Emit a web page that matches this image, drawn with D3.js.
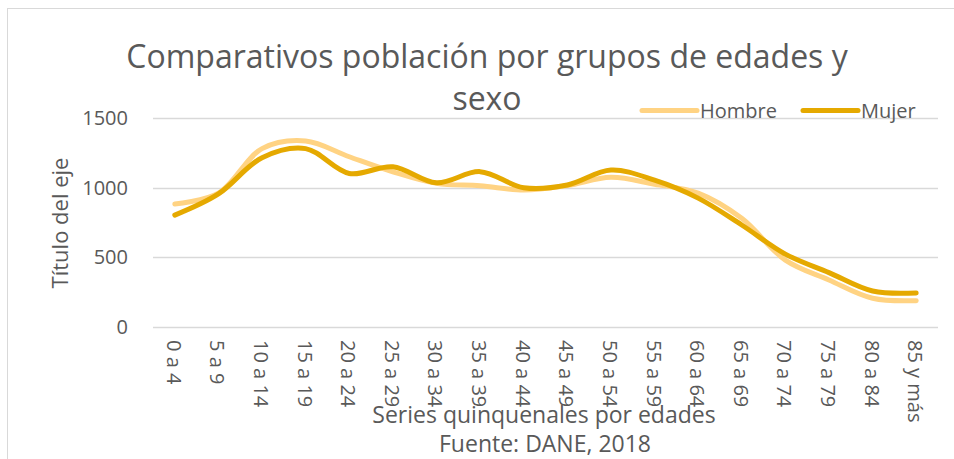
<!DOCTYPE html>
<html>
<head>
<meta charset="utf-8">
<script src="https://cdn.jsdelivr.net/npm/d3@7"></script>
<style>
  body { margin: 0; background: #fff; }
  text { font-family: "Open Sans", "Noto Sans", sans-serif; fill: #595959; }
</style>
</head>
<body>
<div id="chart"></div>
<script>
// Age groups (categories)
var ageGroups = ["0 a 4", "5 a 9", "10 a 14", "15 a 19", "20 a 24", "25 a 29",
  "30 a 34", "35 a 39", "40 a 44", "45 a 49", "50 a 54", "55 a 59",
  "60 a 64", "65 a 69", "70 a 74", "75 a 79", "80 a 84", "85 y más"];

// Values
var hombre = [882, 960, 1280, 1335, 1222, 1114, 1031, 1014, 983, 1015,
  1074, 1025, 961, 780, 480, 337, 206, 189];
var mujer = [803, 955, 1215, 1280, 1102, 1150, 1035, 1115, 1000, 1019,
  1126, 1054, 925, 732, 523, 390, 258, 244];

var yTicks = [0, 500, 1000, 1500];

var series = [
  { name: "Hombre", values: hombre, color: "#FFD383" },
  { name: "Mujer", values: mujer, color: "#E5A900" }
];

var svg = d3.select("#chart").append("svg")
  .attr("width", 954)
  .attr("height", 459);

// chart frame
svg.append("rect")
  .attr("x", 7.5).attr("y", 8.5)
  .attr("width", 960).attr("height", 460)
  .attr("fill", "none")
  .attr("stroke", "#d9d9d9");

var margin = { top: 118, left: 153, right: 16, bottom: 132 };
var width = 954 - margin.left - margin.right;
var height = 459 - margin.top - margin.bottom;

var g = svg.append("g")
  .attr("transform", "translate(" + margin.left + "," + margin.top + ")");

var x = d3.scaleBand().domain(ageGroups).range([0, width]);
var y = d3.scaleLinear().domain([0, 1500]).range([height, 0]);

// gridlines
g.append("g")
  .selectAll("line")
  .data(yTicks)
  .enter()
  .append("line")
  .attr("x1", 0)
  .attr("x2", width)
  .attr("y1", function (d) { return Math.round(y(d)) + 0.5; })
  .attr("y2", function (d) { return Math.round(y(d)) + 0.5; })
  .attr("stroke", "#d9d9d9")
  .attr("stroke-width", 1.3);

// y axis labels
var yAxis = g.append("g")
  .call(d3.axisLeft(y).tickValues(yTicks).tickFormat(d3.format("d"))
    .tickSize(0).tickPadding(25));
yAxis.select(".domain").remove();
yAxis.selectAll("text")
  .style("font-size", "20px")
  .style("font-family", "\"Open Sans\", sans-serif")
  .attr("fill", "#595959");

// x axis labels, rotated
var xAxis = g.append("g")
  .attr("transform", "translate(0," + height + ")")
  .call(d3.axisBottom(x).tickSize(0));
xAxis.select(".domain").remove();
xAxis.selectAll("text")
  .style("font-size", "20px")
  .style("font-family", "\"Open Sans\", sans-serif")
  .attr("fill", "#595959")
  .attr("text-anchor", "start")
  .attr("transform", "rotate(90)")
  .attr("x", 13)
  .attr("y", 0)
  .attr("dy", "0.4em");

// lines
var line = d3.line()
  .x(function (d, i) { return x(ageGroups[i]) + x.bandwidth() / 2; })
  .y(function (d) { return y(d); })
  .curve(d3.curveCatmullRom.alpha(0.5));

series.forEach(function (s) {
  g.append("path")
    .datum(s.values)
    .attr("fill", "none")
    .attr("stroke", s.color)
    .attr("stroke-width", 5)
    .attr("stroke-linecap", "round")
    .attr("stroke-linejoin", "round")
    .attr("d", line);
});

// title
svg.append("text")
  .attr("x", 487).attr("y", 68)
  .attr("text-anchor", "middle")
  .style("font-size", "32px")
  .text("Comparativos población por grupos de edades y");
svg.append("text")
  .attr("x", 487).attr("y", 110)
  .attr("text-anchor", "middle")
  .style("font-size", "32px")
  .text("sexo");

// legend
var legendX = [642, 803];
series.forEach(function (s, i) {
  svg.append("line")
    .attr("x1", legendX[i]).attr("x2", legendX[i] + 55)
    .attr("y1", 110.5).attr("y2", 110.5)
    .attr("stroke", s.color)
    .attr("stroke-width", 5)
    .attr("stroke-linecap", "round");
  svg.append("text")
    .attr("x", legendX[i] + 58).attr("y", 118)
    .style("font-size", "20px")
    .text(s.name);
});

// axis titles
svg.append("text")
  .attr("transform", "translate(68,223) rotate(-90)")
  .attr("text-anchor", "middle")
  .style("font-size", "22px")
  .text("Título del eje");

svg.append("text")
  .attr("x", 544).attr("y", 423)
  .attr("text-anchor", "middle")
  .style("font-size", "23px")
  .text("Series quinquenales por edades");
svg.append("text")
  .attr("x", 545).attr("y", 452)
  .attr("text-anchor", "middle")
  .style("font-size", "23px")
  .text("Fuente: DANE, 2018");
</script>
</body>
</html>
